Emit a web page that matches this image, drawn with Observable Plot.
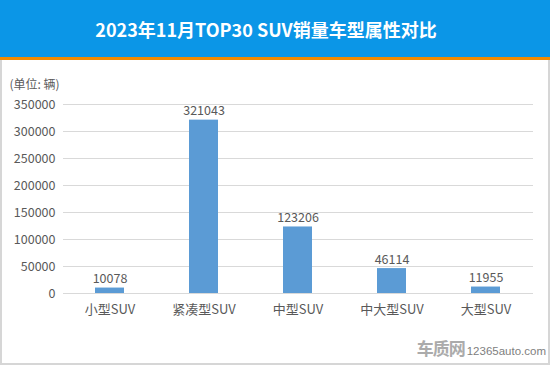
<!DOCTYPE html>
<html>
<head>
<meta charset="utf-8">
<script src="https://cdn.jsdelivr.net/npm/d3@7"></script>
<script src="https://cdn.jsdelivr.net/npm/@observablehq/plot@0.6"></script>
<style>
  html, body { margin: 0; padding: 0; background: #fff; }
  #wrap { position: relative; width: 550px; height: 365px; box-sizing: border-box; overflow: hidden;
          font-family: "Noto Sans CJK SC", "Noto Sans", sans-serif; }
  #title { position: absolute; left: 0; top: 0; width: 550px; height: 57px; background: #0b96e7;
           border-bottom: 3px solid #f28a00; color: #fff; font-weight: bold; font-size: 18px;
           line-height: 58px; text-align: center; box-sizing: content-box; }
  #title span { position: relative; left: -9px; }
  #panel { position: absolute; left: 0; top: 60px; width: 550px; height: 305px; box-sizing: border-box;
           border-left: 2px solid #d6d6d6; border-right: 2px solid #d6d6d6; border-bottom: 2px solid #d6d6d6; }
  #mark { position: absolute; right: 4px; bottom: 5px; white-space: nowrap; }
  #mark .logo { font-size: 17px; font-weight: bold; color: #ababab; letter-spacing: -1px; }
  #mark .url { font-size: 11.5px; color: #808080; font-family: "Liberation Sans", sans-serif; margin-left: 2px; }
</style>
</head>
<body>
<div id="wrap">
  <div id="title"><span>2023年11月TOP30 SUV销量车型属性对比</span></div>
  <div id="panel"></div>
  <div id="mark"><span class="logo">车质网</span><span class="url">12365auto.com</span></div>
</div>
<script>
const categories = ["小型SUV", "紧凑型SUV", "中型SUV", "中大型SUV", "大型SUV"];
const sales = [10078, 321043, 123206, 46114, 11955];
const yTicks = [0, 50000, 100000, 150000, 200000, 250000, 300000, 350000];
const unitLabel = "(单位: 辆)";

const data = categories.map((c, i) => ({category: c, value: sales[i]}));
const textColor = "#595959";
const font = "'Noto Sans CJK SC', 'Noto Sans', sans-serif";

const chart = Plot.plot({
  width: 546,
  height: 303,
  marginLeft: 61,
  marginRight: 15,
  marginTop: 44,
  marginBottom: 70,
  style: {fontFamily: font, color: textColor, background: "transparent"},
  x: {domain: categories, paddingInner: 0.69, paddingOuter: 0.345, label: null},
  y: {domain: [0, 350000], label: null},
  marks: [
    Plot.ruleY(yTicks, {stroke: "#d9d9d9", strokeWidth: 1}),
    Plot.barY(data, {x: "category", y: "value", fill: "#5b9bd5"}),
    Plot.text(data, {x: "category", y: "value", text: d => String(d.value), lineAnchor: "bottom", dy: -5,
                     fontSize: 12.5, fill: textColor}),
    Plot.axisY(yTicks, {tickSize: 0, tickPadding: 8, tickFormat: d => String(d), fontSize: 12.5, fill: textColor, label: null}),
    Plot.axisX({tickSize: 0, tickPadding: 11, fontSize: 13, fill: textColor, label: null}),
    Plot.text([unitLabel], {frameAnchor: "top-left", text: d => d, dx: -54, dy: -24, textAnchor: "start",
                            fontSize: 12, fill: textColor})
  ]
});
document.getElementById("panel").appendChild(chart);
</script>
</body>
</html>
